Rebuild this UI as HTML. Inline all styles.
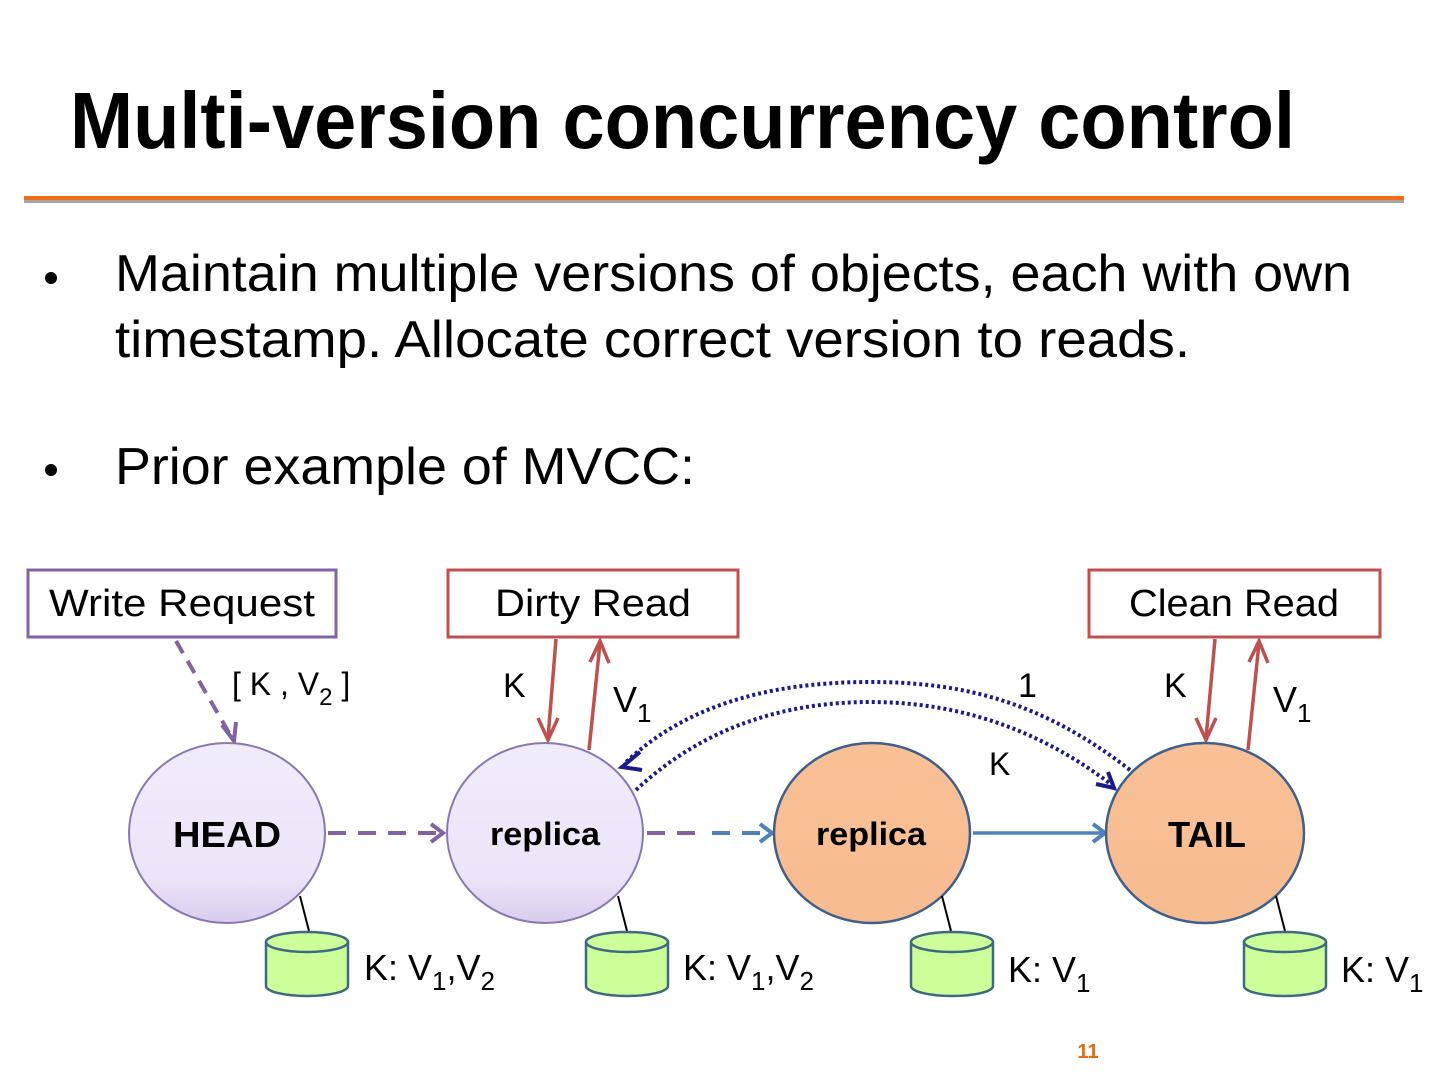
<!DOCTYPE html>
<html><head><meta charset="utf-8"><style>
html,body{margin:0;padding:0;background:#fff;}
svg{display:block;}
</style></head><body>
<svg width="1440" height="1080" viewBox="0 0 1440 1080" xmlns="http://www.w3.org/2000/svg" font-family="Liberation Sans, sans-serif">
<defs>
<linearGradient id="lav" x1="0" y1="0" x2="0" y2="1"><stop offset="0" stop-color="#f1ecfb"/><stop offset="0.75" stop-color="#ece4f8"/><stop offset="1" stop-color="#d9cdee"/></linearGradient>
<linearGradient id="org" x1="0" y1="0" x2="0" y2="1"><stop offset="0" stop-color="#f9c097"/><stop offset="1" stop-color="#f7bb90"/></linearGradient>
</defs>
<text x="70" y="148" font-size="80" font-weight="bold" textLength="1225" lengthAdjust="spacingAndGlyphs">Multi-version concurrency control</text>
<rect x="24" y="200" width="1380" height="3" fill="#a6a6a6"/>
<rect x="24" y="196" width="1380" height="4" fill="#f26c1a"/>
<circle cx="51" cy="278" r="6" fill="#000"/>
<text x="115" y="291" font-size="52" textLength="1237" lengthAdjust="spacingAndGlyphs">Maintain multiple versions of objects, each with own</text>
<text x="115" y="357" font-size="52" textLength="1075" lengthAdjust="spacingAndGlyphs">timestamp.  Allocate correct version to reads.</text>
<circle cx="51" cy="470" r="6" fill="#000"/>
<text x="115" y="484" font-size="52" textLength="580" lengthAdjust="spacingAndGlyphs">Prior example of MVCC:</text>

<!-- boxes -->
<rect x="28" y="570" width="308" height="67" fill="#fff" stroke="#8064a2" stroke-width="3"/>
<text x="182" y="616" font-size="38" text-anchor="middle" textLength="266" lengthAdjust="spacingAndGlyphs">Write Request</text>
<rect x="448" y="570" width="290" height="67" fill="#fff" stroke="#c0504d" stroke-width="3"/>
<text x="593" y="616" font-size="38" text-anchor="middle" textLength="196" lengthAdjust="spacingAndGlyphs">Dirty Read</text>
<rect x="1089" y="570" width="291" height="67" fill="#fff" stroke="#c0504d" stroke-width="3"/>
<text x="1234" y="616" font-size="38" text-anchor="middle" textLength="210" lengthAdjust="spacingAndGlyphs">Clean Read</text>

<!-- write arrow -->
<line x1="176" y1="641" x2="232" y2="738" stroke="#8064a2" stroke-width="4" stroke-dasharray="14,9"/>
<polyline points="222,725 234,741 236,722" fill="none" stroke="#8064a2" stroke-width="4"/>
<text x="232" y="695" font-size="32">[ K , V<tspan font-size="24" dy="10">2</tspan><tspan dy="-10"> ]</tspan></text>

<!-- dirty read arrows -->
<line x1="556" y1="639" x2="548" y2="738" stroke="#c0504d" stroke-width="3.5"/>
<polyline points="538,718 548,740 558,718" fill="none" stroke="#c0504d" stroke-width="3.5"/>
<line x1="589" y1="750" x2="600" y2="643" stroke="#c0504d" stroke-width="3.5"/>
<polyline points="590,662 600,641 609,663" fill="none" stroke="#c0504d" stroke-width="3.5"/>
<text x="503" y="697" font-size="34">K</text>
<text x="613" y="712" font-size="36">V<tspan font-size="26" dy="10">1</tspan></text>

<!-- clean read arrows -->
<line x1="1215" y1="639" x2="1206" y2="738" stroke="#c0504d" stroke-width="3.5"/>
<polyline points="1196,718 1206,740 1216,718" fill="none" stroke="#c0504d" stroke-width="3.5"/>
<line x1="1248" y1="750" x2="1259" y2="643" stroke="#c0504d" stroke-width="3.5"/>
<polyline points="1249,662 1259,641 1268,663" fill="none" stroke="#c0504d" stroke-width="3.5"/>
<text x="1164" y="697" font-size="34">K</text>
<text x="1273" y="712" font-size="36">V<tspan font-size="26" dy="10">1</tspan></text>

<!-- dotted arcs -->
<path d="M1130,770 C1040,700 960,682 870,682 C760,682 680,710 624,764" fill="none" stroke="#1a1a8c" stroke-width="4" stroke-dasharray="3,3"/>
<polyline points="640,752 622,767 642,770" fill="none" stroke="#1a1a8c" stroke-width="4"/>
<path d="M636,790 C700,730 780,702 870,702 C960,702 1040,730 1112,785" fill="none" stroke="#1a1a8c" stroke-width="4" stroke-dasharray="3,3"/>
<polyline points="1096,784 1114,788 1108,772" fill="none" stroke="#1a1a8c" stroke-width="4"/>
<text x="1018" y="697" font-size="34">1</text>
<text x="989" y="775" font-size="32">K</text>

<!-- chain arrows -->
<line x1="328" y1="833" x2="440" y2="833" stroke="#8064a2" stroke-width="4" stroke-dasharray="18,12"/>
<polyline points="431,824 443,833 431,842" fill="none" stroke="#8064a2" stroke-width="4"/>
<line x1="647" y1="833" x2="700" y2="833" stroke="#8064a2" stroke-width="4" stroke-dasharray="18,12"/>
<line x1="712" y1="833" x2="770" y2="833" stroke="#4f81bd" stroke-width="4" stroke-dasharray="18,12"/>
<polyline points="760,824 772,833 760,842" fill="none" stroke="#4f81bd" stroke-width="4"/>
<line x1="973" y1="833" x2="1104" y2="833" stroke="#4f81bd" stroke-width="3.5"/>
<polyline points="1093,824 1105,833 1093,842" fill="none" stroke="#4f81bd" stroke-width="4"/>

<!-- nodes -->
<ellipse cx="227" cy="833" rx="98" ry="90" fill="url(#lav)" stroke="#8a77b0" stroke-width="2"/>
<text x="227" y="847" font-size="36" font-weight="bold" text-anchor="middle" textLength="108" lengthAdjust="spacingAndGlyphs">HEAD</text>
<ellipse cx="545" cy="833" rx="98" ry="90" fill="url(#lav)" stroke="#8a77b0" stroke-width="2"/>
<text x="545" y="845" font-size="32" font-weight="bold" text-anchor="middle" textLength="110" lengthAdjust="spacingAndGlyphs">replica</text>
<ellipse cx="872" cy="833" rx="98" ry="90" fill="url(#org)" stroke="#3f5f8a" stroke-width="2.5"/>
<text x="871" y="845" font-size="32" font-weight="bold" text-anchor="middle" textLength="110" lengthAdjust="spacingAndGlyphs">replica</text>
<ellipse cx="1205" cy="833" rx="99" ry="90" fill="url(#org)" stroke="#3f5f8a" stroke-width="2.5"/>
<text x="1207" y="847" font-size="36" font-weight="bold" text-anchor="middle" textLength="78" lengthAdjust="spacingAndGlyphs">TAIL</text>

<!-- db lines -->
<line x1="300" y1="896" x2="309" y2="931" stroke="#000" stroke-width="2"/>
<line x1="618" y1="896" x2="627" y2="931" stroke="#000" stroke-width="2"/>
<line x1="942" y1="896" x2="951" y2="931" stroke="#000" stroke-width="2"/>
<line x1="1276" y1="896" x2="1285" y2="931" stroke="#000" stroke-width="2"/>

<!-- cylinders -->
<g stroke="#3d6a80" stroke-width="2.5" fill="#ccff99">
<path d="M266,942 L266,986 A41,10 0 0 0 348,986 L348,942"/>
<ellipse cx="307" cy="942" rx="41" ry="10"/>
<path d="M586,942 L586,986 A41,10 0 0 0 668,986 L668,942"/>
<ellipse cx="627" cy="942" rx="41" ry="10"/>
<path d="M911,942 L911,986 A41,10 0 0 0 993,986 L993,942"/>
<ellipse cx="952" cy="942" rx="41" ry="10"/>
<path d="M1244,942 L1244,986 A41,10 0 0 0 1326,986 L1326,942"/>
<ellipse cx="1285" cy="942" rx="41" ry="10"/>
</g>
<text x="364" y="980" font-size="36">K: V<tspan font-size="26" dy="10">1</tspan><tspan dy="-10">,V</tspan><tspan font-size="26" dy="10">2</tspan></text>
<text x="683" y="980" font-size="36">K: V<tspan font-size="26" dy="10">1</tspan><tspan dy="-10">,V</tspan><tspan font-size="26" dy="10">2</tspan></text>
<text x="1008" y="982" font-size="36">K: V<tspan font-size="26" dy="10">1</tspan></text>
<text x="1341" y="982" font-size="36">K: V<tspan font-size="26" dy="10">1</tspan></text>

<text x="1088" y="1058" font-size="20" font-weight="bold" fill="#e46c0a" text-anchor="middle">11</text>
</svg>
</body></html>
